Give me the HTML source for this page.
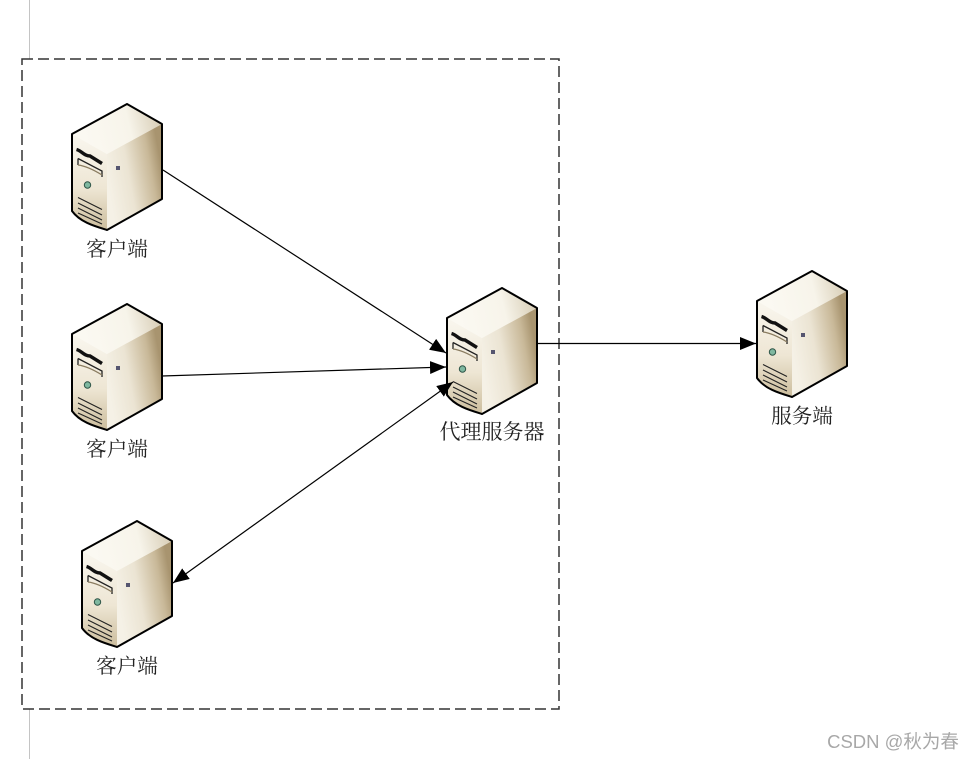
<!DOCTYPE html>
<html>
<head>
<meta charset="utf-8">
<style>
html,body{margin:0;padding:0;background:#fff;}
svg{display:block;}
text{font-family:"Liberation Serif","Noto Serif CJK SC",serif;font-size:20.6px;fill:#222;text-anchor:middle;}
</style>
</head>
<body>
<svg width="973" height="759" viewBox="0 0 973 759" xmlns="http://www.w3.org/2000/svg">
<defs>
<linearGradient id="r" gradientUnits="userSpaceOnUse" x1="107" y1="180" x2="162" y2="170">
<stop offset="0" stop-color="#f5f1e6"/><stop offset="0.4" stop-color="#ebe4d3"/><stop offset="0.8" stop-color="#c9b999"/><stop offset="1" stop-color="#a8946f"/>
</linearGradient>
<linearGradient id="l" gradientUnits="userSpaceOnUse" x1="90" y1="140" x2="90" y2="228">
<stop offset="0" stop-color="#f8f5ec"/><stop offset="0.55" stop-color="#eee6d4"/><stop offset="1" stop-color="#cdbf9f"/>
</linearGradient>
<linearGradient id="t" gradientUnits="userSpaceOnUse" x1="85" y1="140" x2="160" y2="122">
<stop offset="0" stop-color="#fbf9f2"/><stop offset="0.6" stop-color="#f7f4ea"/><stop offset="1" stop-color="#d9cfb8"/>
</linearGradient>
<g id="srv">
<path d="M72 134L127 104L162 124L107 154Z" fill="url(#t)"/>
<path d="M72 134L107 154V230C94 226 80 222 72 211Z" fill="url(#l)"/>
<path d="M107 154L162 124V199L107 230Z" fill="url(#r)"/>
<path d="M72 134L127 104L162 124V199L107 230C94 226 80 222 72 211Z" fill="none" stroke="#000" stroke-width="2" stroke-linejoin="round"/>
<path d="M76.5 149.5C82 151 84 156 90 156L102 163.5" fill="none" stroke="#111" stroke-width="3.4"/>
<path d="M78 158.5L102 171V177M78 158.5V165" fill="none" stroke="#222" stroke-width="1.3"/>
<path d="M78 165C86 166 94 170 102 175" fill="none" stroke="#8a7c60" stroke-width="1.2"/>
<circle cx="87.5" cy="185" r="3.2" fill="#7fb8a0" stroke="#2f5548" stroke-width="1"/>
<rect x="116" y="166" width="4" height="4" fill="#55556f"/>
<path d="M78 197.5L102 209.5M78 203L102 215M78 208L102 220M78 213L102 224" fill="none" stroke="#222" stroke-width="1.1"/>
</g>
<marker id="a" viewBox="0 0 16 13" refX="16" refY="6.5" markerWidth="16" markerHeight="13" markerUnits="userSpaceOnUse" orient="auto"><path d="M0 0L16 6.5L0 13Z" fill="#000"/></marker>
<marker id="b" viewBox="0 0 16 13" refX="0" refY="6.5" markerWidth="16" markerHeight="13" markerUnits="userSpaceOnUse" orient="auto"><path d="M16 0L0 6.5L16 13Z" fill="#000"/></marker>
</defs>
<rect width="973" height="759" fill="#fff"/>
<path d="M29.5 0V59M29.5 709V759" stroke="#c4c4c4" stroke-width="1"/>
<rect x="22" y="59" width="537" height="650" fill="none" stroke="#333" stroke-width="1.5" stroke-dasharray="11 5"/>
<use href="#srv"/>
<use href="#srv" transform="translate(0,200)"/>
<use href="#srv" transform="translate(10,417)"/>
<use href="#srv" transform="translate(375,184)"/>
<use href="#srv" transform="translate(685,167)"/>
<path d="M163 170L446 353" stroke="#000" stroke-width="1.2" fill="none" marker-end="url(#a)"/>
<path d="M162 376L446 367" stroke="#000" stroke-width="1.2" fill="none" marker-end="url(#a)"/>
<path d="M173 583L453 382" stroke="#000" stroke-width="1.2" fill="none" marker-start="url(#b)" marker-end="url(#a)"/>
<path d="M537 343.5H756" stroke="#000" stroke-width="1.2" fill="none" marker-end="url(#a)"/>
<text x="117" y="256">客户端</text>
<text x="117" y="456">客户端</text>
<text x="127" y="673">客户端</text>
<text x="492" y="439" style="font-size:21px">代理服务器</text>
<text x="802" y="423">服务端</text>
<text x="893" y="748" style="font-family:'Liberation Sans','Noto Sans CJK SC',sans-serif;font-size:18.5px;fill:#a8a8a8">CSDN @秋为春</text>
</svg>
</body>
</html>
